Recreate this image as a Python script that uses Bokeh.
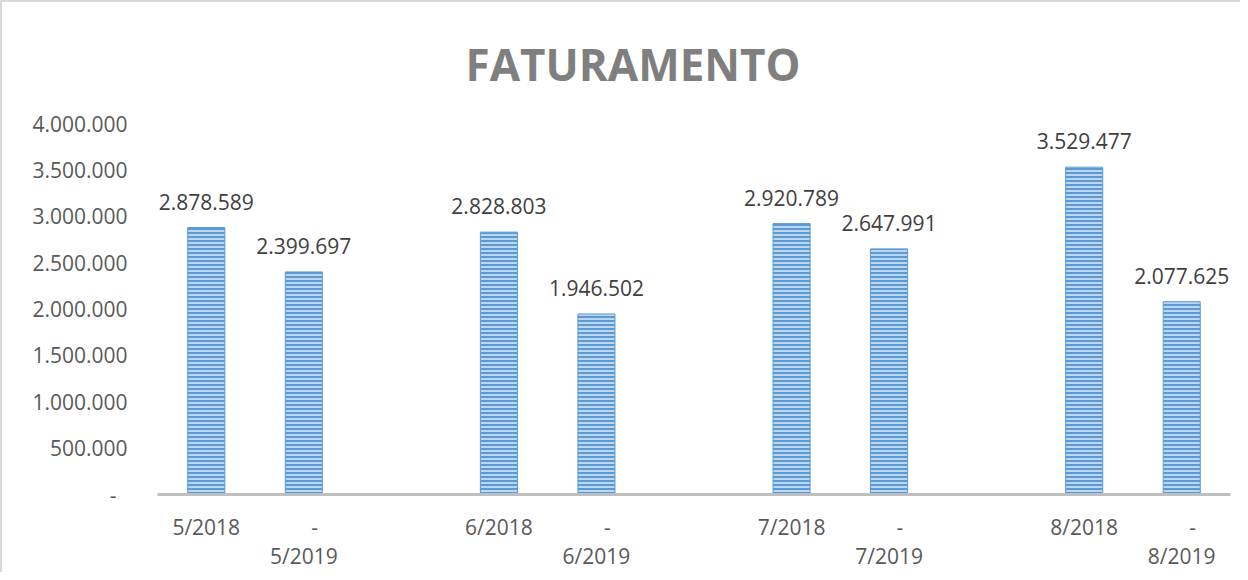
from bokeh.plotting import figure
from bokeh.models import FactorRange, FixedTicker, Title, Range1d
from bokeh.core.properties import value
from bokeh.embed import file_html
from bokeh.resources import INLINE

# ---- data ----
categories = ["5/2018", "5/2019", "6/2018", "6/2019", "7/2018", "7/2019", "8/2018", "8/2019"]
values = [2878589, 2399697, 2828803, 1946502, 2920789, 2647991, 3529477, 2077625]
y_ticks = [0, 500000, 1000000, 1500000, 2000000, 2500000, 3000000, 3500000, 4000000]
y_tick_labels = ["-", "500.000", "1.000.000", "1.500.000", "2.000.000",
                 "2.500.000", "3.000.000", "3.500.000", "4.000.000"]
title_text = "FATURAMENTO"

def fmt(v):
    return f"{v:,}".replace(",", ".")

NB = "\u00a0"
FONT = "Open Sans"

# display labels: second bar of each pair shows "-" above its date
x_labels = [c if i % 2 == 0 else (NB * 4 + "-\n" + c) for i, c in enumerate(categories)]

# factors with an empty slot between each month pair
factors = []
for i, c in enumerate(x_labels):
    factors.append(c)
    if i % 2 == 1 and i < len(x_labels) - 1:
        factors.append(" " * (i // 2 + 1))

p = figure(width=1240, height=572,
           x_range=FactorRange(factors=factors, range_padding=0),
           y_range=Range1d(0, 4000000),
           output_backend="svg", toolbar_location=None,
           min_border_left=155, min_border_right=12, min_border_bottom=80,
           min_border_top=120,
           styles={"border-top": "2px solid #d9d9d9", "border-left": "2px solid #d9d9d9"})

p.title = Title(text=title_text, align="left", offset=308,
                text_font=FONT, text_font_size="44px", text_font_style="bold",
                text_color="#7f7f7f", standoff=59)

p.outline_line_color = None
p.background_fill_color = "white"
p.border_fill_color = "white"
p.xgrid.grid_line_color = None
p.ygrid.grid_line_color = None

p.vbar(x=x_labels, top=values, width=0.38,
       fill_color="#bcd6f0", line_color="#5b9bd5", line_width=1,
       hatch_pattern="horizontal_line", hatch_color="#5b9bd5",
       hatch_scale=4, hatch_weight=2)

p.text(x=x_labels, y=values, text=[fmt(v) for v in values],
       text_align="center", text_baseline="middle", y_offset=-26,
       text_font=value(FONT), text_font_size="21px", text_color="#404040")

# y axis
yax = p.yaxis[0]
yax.ticker = FixedTicker(ticks=y_ticks)
yax.major_label_overrides = {t: (l + NB * 2 if t == 0 else l) for t, l in zip(y_ticks, y_tick_labels)}
yax.axis_line_color = None
yax.major_tick_line_color = None
yax.minor_tick_line_color = None
yax.major_label_standoff = 24
yax.major_label_text_font = FONT
yax.major_label_text_font_size = "21px"
yax.major_label_text_color = "#595959"

# x axis
xax = p.xaxis[0]
xax.axis_line_color = "#bfbfbf"
xax.axis_line_width = 3
xax.major_tick_line_color = None
xax.minor_tick_line_color = None
xax.major_label_standoff = 12
xax.major_label_text_font = FONT
xax.major_label_text_font_size = "21px"
xax.major_label_text_color = "#595959"
xax.major_label_text_line_height = 1.05

open("out.html", "w").write(file_html(p, INLINE))
